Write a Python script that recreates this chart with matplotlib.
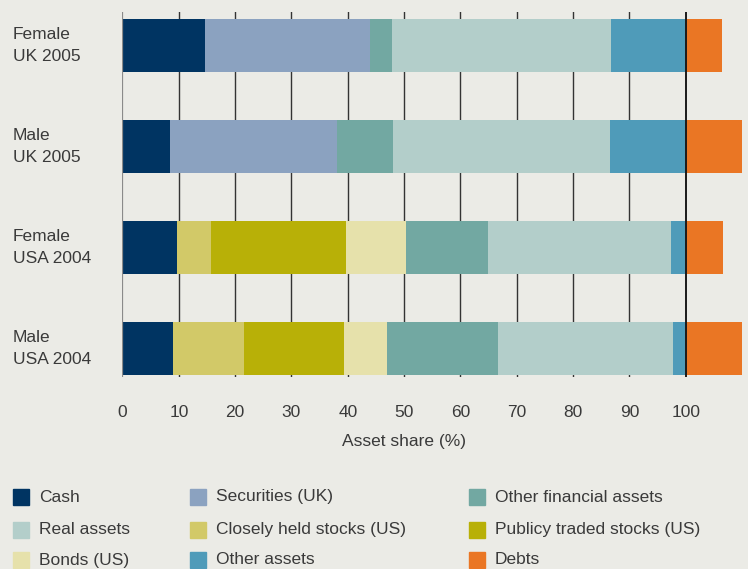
import matplotlib.pyplot as plt
import matplotlib.transforms as mtransforms
from matplotlib.patches import Rectangle

plt.rcParams['font.family'] = ['Liberation Sans', 'DejaVu Sans']

groups = ['Female\nUK 2005', 'Male\nUK 2005', 'Female\nUSA 2004', 'Male\nUSA 2004']

# asset shares (%) per group, stacked left to right
cash = [14.6, 8.4, 9.65, 8.9]
securities = [29.4, 29.6, 0, 0]
closely_held = [0, 0, 6.05, 12.6]
public_stocks = [0, 0, 23.9, 17.9]
bonds = [0, 0, 10.8, 7.6]
other_fin = [3.9, 10.1, 14.5, 19.6]
real_assets = [38.9, 38.4, 32.5, 31.2]
other_assets = [13.2, 13.5, 2.6, 2.2]
debts = [6.5, 10.0, 6.6, 10.0]

xticks = [0, 10, 20, 30, 40, 50, 60, 70, 80, 90, 100]

c_cash = '#003462'
c_sec = '#8ba2c0'
c_ofa = '#72a8a2'
c_real = '#b3ceca'
c_close = '#d2c968'
c_pub = '#b8b007'
c_bonds = '#e6e1ab'
c_other = '#4f9bb9'
c_debt = '#ea7624'
bg = '#ebebe6'
txt = '#3a3a3a'

fig = plt.figure(figsize=(7.48, 5.69), dpi=100, facecolor=bg)
ax = fig.add_axes([122.5 / 748, 1 - 377 / 569, (742 - 122.5) / 748, (377 - 12) / 569])
ax.set_facecolor(bg)

y = list(range(len(groups)))
segments = [(cash, c_cash), (securities, c_sec), (closely_held, c_close),
            (public_stocks, c_pub), (bonds, c_bonds), (other_fin, c_ofa),
            (real_assets, c_real), (other_assets, c_other)]
left = [0.0] * len(groups)
for vals, col in segments:
    ax.barh(y, vals, left=left, height=0.525, color=col, zorder=2)
    left = [a + b for a, b in zip(left, vals)]
ax.barh(y, debts, left=100, height=0.525, color=c_debt, zorder=2)

# vertical grid lines
for xv in xticks[1:-1]:
    ax.axvline(xv, color='#333333', lw=1.0, zorder=1)
ax.axvline(0, color='#8a8a8a', lw=1.6, zorder=3)
ax.axvline(100, color='#1a1a1a', lw=1.4, zorder=3)

ax.set_xlim(0, 110)
ax.set_ylim(3.28, -0.33)
for s in ax.spines.values():
    s.set_visible(False)

ax.set_xticks(xticks)
ax.set_xticklabels([str(v) for v in xticks])
ax.tick_params(axis='x', length=0, pad=20.5, labelsize=12.5, labelcolor=txt)
ax.set_yticks(y)
ax.set_yticklabels(groups)
ax.tick_params(axis='y', length=0, pad=79, labelsize=12.5, labelcolor=txt)
for lbl in ax.get_yticklabels():
    lbl.set_horizontalalignment('left')
    lbl.set_multialignment('left')
    lbl.set_verticalalignment('center')
    lbl.set_linespacing(1.6)

tr = mtransforms.blended_transform_factory(ax.transData, fig.transFigure)
ax.text(50, 1 - 441.5 / 569, 'Asset share (%)', transform=tr, ha='center',
        va='center', fontsize=12.5, color=txt)

# legend, filled row by row
legend_items = [('Cash', c_cash), ('Securities (UK)', c_sec), ('Other financial assets', c_ofa),
                ('Real assets', c_real), ('Closely held stocks (US)', c_close),
                ('Publicy traded stocks (US)', c_pub),
                ('Bonds (US)', c_bonds), ('Other assets', c_other), ('Debts', c_debt)]
col_x = [13, 190, 469]
row_y = [497, 529.5, 560]
for i, (name, col) in enumerate(legend_items):
    px = col_x[i % 3]
    py = row_y[i // 3]
    fig.add_artist(Rectangle((px / 748, 1 - (py + 8) / 569), 16 / 748, 16 / 569,
                             transform=fig.transFigure, color=col))
    fig.text((px + 26) / 748, 1 - py / 569, name, ha='left', va='center',
             fontsize=12.5, color=txt)

fig.savefig('out.png', dpi=100, facecolor=bg)
